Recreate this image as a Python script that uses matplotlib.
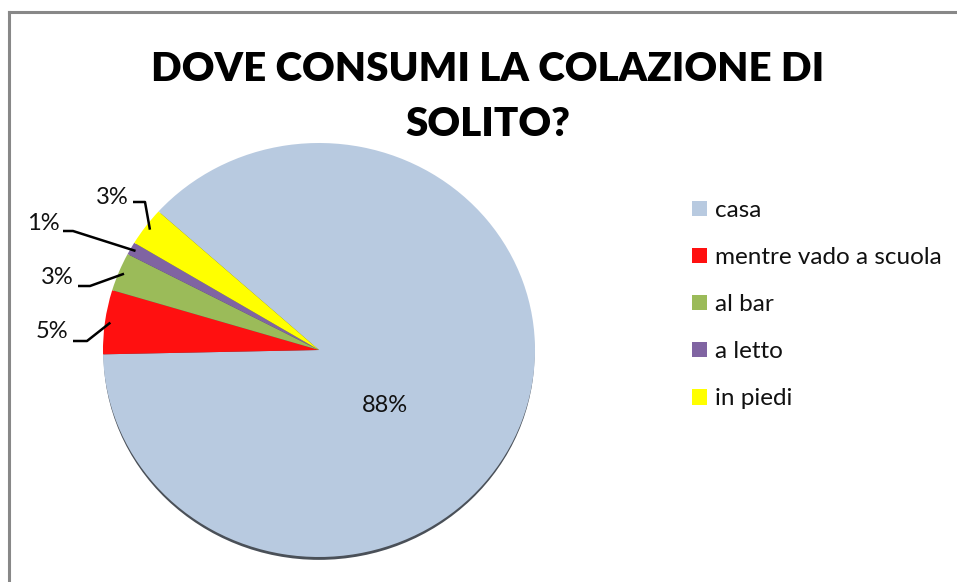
import numpy as np
import matplotlib.pyplot as plt
from matplotlib.lines import Line2D
from matplotlib.patches import Circle

W, H = 957, 582

title = 'DOVE CONSUMI LA COLAZIONE DI\nSOLITO?'
categories = ['casa', 'mentre vado a scuola', 'al bar', 'a letto', 'in piedi']
percent = [88, 5, 3, 1, 3]
colors = ['#b8cae0', '#ff1010', '#9bbb59', '#8064a2', '#ffff00']

# pie is a touch flattened: horizontal radius 216 px, vertical 207 px
cx, cy, rx, ry = 319, 350, 216, 207
squash = ry / rx
start = 138

# outside label layout in pixels: (text x, text y, elbow start x, elbow end x, elbow y)
callouts = {
    1: (52, 331, 73, 87, 341),
    2: (57, 277, 78, 90, 286),
    3: (43, 224, 63, 73, 231),
    4: (112, 197, 133, 145, 202),
}

plt.rcParams['font.family'] = ['Lato', 'DejaVu Sans']

fig = plt.figure(figsize=(W / 100, H / 100), dpi=100)
ax = fig.add_axes([0, 0, 1, 1])

pcy = (H - cy) / squash
ax.add_patch(Circle((cx, pcy - 3.5), rx - 0.5, facecolor='#4a5058', edgecolor='none', zorder=0))
wedges, _ = ax.pie(percent, colors=colors, startangle=start, counterclock=False,
                   center=(cx, pcy), radius=rx, wedgeprops=dict(linewidth=0))
ax.set_aspect('auto')
ax.set_xlim(0, W)
ax.set_ylim(0, H / squash)
ax.axis('off')

# overlay in plain pixel coordinates (y up) for labels and leader lines
ov = fig.add_axes([0, 0, 1, 1])
ov.set_xlim(0, W)
ov.set_ylim(0, H)
ov.axis('off')
ov.patch.set_alpha(0)

ov.text(385, H - 405, f'{percent[0]}%', fontsize=17, ha='center', va='center', color='#111111')

to_px = ax.transData + ov.transData.inverted()
for i, (tx, ty, ex0, ex1, ey) in callouts.items():
    w = wedges[i]
    mid = np.deg2rad((w.theta1 + w.theta2) / 2)
    px, py = to_px.transform((cx + 0.975 * rx * np.cos(mid), pcy + 0.975 * rx * np.sin(mid)))
    ov.plot([ex0, ex1, px], [H - ey, H - ey, py], color='black', lw=1.8,
            solid_capstyle='butt')
    ov.text(tx, H - ty, f'{percent[i]}%', fontsize=17, ha='center', va='center',
            color='#111111')

# legend, one row per category
handles = [plt.Rectangle((0, 0), 1, 1, facecolor=c, edgecolor='none') for c in colors]
ov.legend(handles, categories, loc='upper left', bbox_to_anchor=(680 / W, 1 - 188 / H),
          frameon=False, fontsize=17.5, handlelength=0.62, handleheight=0.62,
          handletextpad=0.3, labelspacing=1.07, borderpad=0, labelcolor='#111111')

fig.text(488 / W, 1 - 97 / H, title, ha='center', va='center', fontsize=29,
         fontweight='heavy', linespacing=1.62)

# chart frame (top and left edges)
fig.add_artist(Line2D([9 / W, 1], [1 - 12 / H, 1 - 12 / H], color='#888888', lw=2.2))
fig.add_artist(Line2D([9 / W, 9 / W], [0, 1 - 12 / H], color='#888888', lw=2.2))

fig.savefig('out.png', dpi=100)
